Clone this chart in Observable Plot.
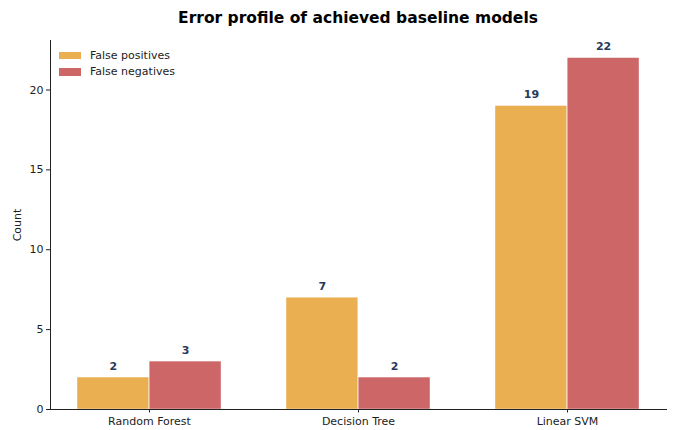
<!DOCTYPE html>
<html>
<head>
<meta charset="utf-8">
<script src="https://cdn.jsdelivr.net/npm/d3@7"></script>
<script src="https://cdn.jsdelivr.net/npm/@observablehq/plot@0.6"></script>
<style>
  html, body { margin: 0; padding: 0; background: #fff; }
  #wrap { position: relative; width: 675px; height: 430px; font-family: "DejaVu Sans", sans-serif; }
  #title { height: 36px; line-height: 36px; text-align: center; font-weight: bold; font-size: 15.5px; color: #000; padding-left: 41px; }
  #legend { position: absolute; left: 59px; top: 47px; font-size: 11px; color: #222; }
  .item { display: flex; align-items: center; height: 16.5px; }
  .sw { width: 22px; height: 7.5px; margin-right: 9px; }
</style>
</head>
<body>
<div id="wrap">
  <div id="title">Error profile of achieved baseline models</div>
  <div id="legend"></div>
  <div id="chart"></div>
</div>
<script>
const models = ["Random Forest", "Decision Tree", "Linear SVM"];
const falsePositives = [2, 7, 19];
const falseNegatives = [3, 2, 22];
const seriesNames = ["False positives", "False negatives"];
const seriesColors = ["#E9AF51", "#CD6667"];
const yTicks = [0, 5, 10, 15, 20];

const data = models.map((m, i) => ({model: m, fp: falsePositives[i], fn: falseNegatives[i]}));

const W = 675, H = 394, ml = 50, mr = 8, mt = 4, mb = 21;
const pInner = 0.31, pOuter = 0.13;
const step = (W - ml - mr) / (models.length - pInner + 2 * pOuter);
const half = step * (1 - pInner) / 2;

const labelStyle = {fill: "#263A5C", fontWeight: "bold", fontSize: 11, dy: -11.5, lineAnchor: "middle"};
const barStyle = {stroke: "white", strokeWidth: 0.6, strokeOpacity: 0.7};

const plot = Plot.plot({
  width: W, height: H,
  marginLeft: ml, marginRight: mr, marginTop: mt, marginBottom: mb,
  style: {fontFamily: "DejaVu Sans, sans-serif", fontSize: "11px", color: "#222", background: "white"},
  x: {domain: models, paddingInner: pInner, paddingOuter: pOuter, label: null},
  y: {domain: [0, 23.1], label: "Count"},
  marks: [
    Plot.barY(data, {x: "model", y: "fp", fill: seriesColors[0], insetRight: half, ...barStyle}),
    Plot.barY(data, {x: "model", y: "fn", fill: seriesColors[1], insetLeft: half, ...barStyle}),
    Plot.text(data, {x: "model", y: "fp", text: d => String(d.fp), dx: -half / 2, ...labelStyle}),
    Plot.text(data, {x: "model", y: "fn", text: d => String(d.fn), dx: half / 2, ...labelStyle}),
    Plot.axisX({tickSize: 3.5, tickPadding: 4, label: null, fontSize: 11}),
    Plot.axisY({ticks: yTicks, tickSize: 4, tickPadding: 3, label: "Count", labelAnchor: "center", labelOffset: 37, labelArrow: "none", fontSize: 11}),
    Plot.ruleY([0], {stroke: "#222", strokeWidth: 1}),
    Plot.frame({anchor: "left", stroke: "#222", strokeWidth: 1})
  ]
});
document.getElementById("chart").appendChild(plot);

const leg = document.getElementById("legend");
seriesNames.forEach((s, i) => {
  const it = document.createElement("div");
  it.className = "item";
  it.innerHTML = `<div class="sw" style="background:${seriesColors[i]}"></div><span>${s}</span>`;
  leg.appendChild(it);
});
</script>
</body>
</html>
